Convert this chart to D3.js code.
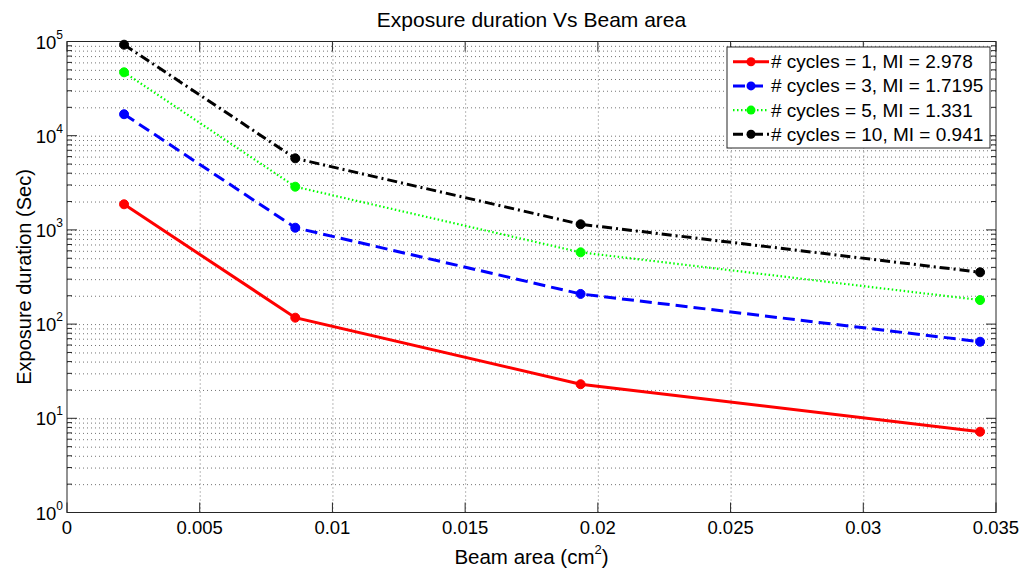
<!DOCTYPE html>
<html>
<head>
<meta charset="utf-8">
<script src="https://cdn.jsdelivr.net/npm/d3@7"></script>
<style>
  body { margin: 0; background: #fff; }
  svg { font-family: "Liberation Sans", Arial, sans-serif; }
  .grid line { stroke: #000; stroke-opacity: 0.55; stroke-dasharray: 1,3; }
  .grid path { display: none; }
</style>
</head>
<body>
<div id="chart"></div>
<script>
// beam area (cm^2)
const beamArea = [0.00215, 0.0086, 0.01935, 0.0344];

const seriesNames = [
    '# cycles = 1, MI = 2.978',
    '# cycles = 3, MI = 1.7195',
    '# cycles = 5, MI = 1.331',
    '# cycles = 10, MI = 0.941',
];
const cycles1 = [1870, 117, 23, 7.2];
const cycles3 = [16900, 1055, 209, 65];
const cycles5 = [47100, 2875, 578, 180];
const cycles10 = [92500, 5750, 1148, 355];

const colors = ['#ff0000', '#0000ff', '#00ff00', '#000000'];
const dashes = [null, '12,6', '1.5,2.5', '10,4,2,4'];
const lineWidths = [3, 3, 2.2, 3];

const xTicks = [0, 0.005, 0.01, 0.015, 0.02, 0.025, 0.03, 0.035];
const yDecades = [1, 10, 100, 1000, 10000, 100000];

const width = 1022;
const height = 569;

const area = { left: 67, right: 996, top: 41.5, bottom: 512.5 };

const svg = d3.select('#chart')
    .append('svg')
    .attr('width', width)
    .attr('height', height);

const xScale = d3.scaleLinear().domain([0, 0.035]).range([area.left, area.right]);
const yScale = d3.scaleLog().domain([1, 1e5]).range([area.bottom, area.top]);

// minor values 2..9 for every decade
const yMinor = [];
yDecades.slice(0, -1).forEach((d) => {
    for (let k = 2; k <= 9; k++) yMinor.push(d * k);
});

// gridlines
svg.append('g')
    .attr('class', 'grid')
    .attr('transform', `translate(${area.left}, 0)`)
    .call(d3.axisLeft(yScale).tickValues(yMinor.concat(yDecades.slice(1, -1)))
        .tickFormat('').tickSize(-(area.right - area.left)));

svg.append('g')
    .attr('class', 'grid')
    .attr('transform', `translate(0, ${area.bottom})`)
    .call(d3.axisBottom(xScale).tickValues(xTicks.slice(1, -1))
        .tickFormat('').tickSize(-(area.bottom - area.top)));

// frame
svg.append('rect')
    .attr('x', area.left).attr('y', area.top)
    .attr('width', area.right - area.left).attr('height', area.bottom - area.top)
    .attr('fill', 'none').attr('stroke', '#262626').attr('stroke-width', 1);

// inside tick marks
const ticks = svg.append('g').attr('stroke', '#262626').attr('stroke-width', 1);
yDecades.forEach((v) => {
    const y = yScale(v);
    ticks.append('line').attr('x1', area.left).attr('x2', area.left + 10).attr('y1', y).attr('y2', y);
    ticks.append('line').attr('x1', area.right).attr('x2', area.right - 10).attr('y1', y).attr('y2', y);
});
yMinor.forEach((v) => {
    const y = yScale(v);
    ticks.append('line').attr('x1', area.left).attr('x2', area.left + 5).attr('y1', y).attr('y2', y);
    ticks.append('line').attr('x1', area.right).attr('x2', area.right - 5).attr('y1', y).attr('y2', y);
});
xTicks.forEach((v) => {
    const x = xScale(v);
    ticks.append('line').attr('x1', x).attr('x2', x).attr('y1', area.bottom).attr('y2', area.bottom - 10);
    ticks.append('line').attr('x1', x).attr('x2', x).attr('y1', area.top).attr('y2', area.top + 10);
});

// x tick labels
svg.append('g')
    .selectAll('text')
    .data(xTicks)
    .join('text')
    .attr('x', (d) => xScale(d))
    .attr('y', area.bottom + 21)
    .attr('text-anchor', 'middle')
    .attr('font-size', 18.5)
    .attr('fill', '#000')
    .text((d) => String(d));

// y tick labels 10^n
const yLab = svg.append('g')
    .selectAll('text')
    .data(yDecades)
    .join('text')
    .attr('x', area.left - 4)
    .attr('y', (d) => yScale(d) + 7)
    .attr('text-anchor', 'end')
    .attr('font-size', 18.5)
    .attr('fill', '#000');
yLab.append('tspan').text('10');
yLab.append('tspan').attr('font-size', 12).attr('dy', -10).text((d) => Math.round(Math.log10(d)));

// title and axis labels
svg.append('text')
    .attr('x', (area.left + area.right) / 2)
    .attr('y', 27)
    .attr('text-anchor', 'middle')
    .attr('font-size', 21)
    .text('Exposure duration Vs Beam area');

const xl = svg.append('text')
    .attr('x', (area.left + area.right) / 2)
    .attr('y', 564)
    .attr('text-anchor', 'middle')
    .attr('font-size', 20.5)
    .text('Beam area (cm');
xl.append('tspan').attr('font-size', 13).attr('dy', -10).text('2');
xl.append('tspan').attr('dy', 10).text(')');

svg.append('text')
    .attr('transform', `translate(31, ${(area.top + area.bottom) / 2}) rotate(-90)`)
    .attr('text-anchor', 'middle')
    .attr('font-size', 20)
    .text('Exposure duration (Sec)');

// series
const allSeries = [cycles1, cycles3, cycles5, cycles10];
const line = d3.line()
    .x((d) => xScale(d[0]))
    .y((d) => yScale(d[1]));

allSeries.forEach((vals, i) => {
    const pts = beamArea.map((a, j) => [a, vals[j]]);
    svg.append('path')
        .datum(pts)
        .attr('d', line)
        .attr('fill', 'none')
        .attr('stroke', colors[i])
        .attr('stroke-width', lineWidths[i])
        .attr('stroke-dasharray', dashes[i]);
    svg.append('g')
        .selectAll('circle')
        .data(pts)
        .join('circle')
        .attr('cx', (d) => xScale(d[0]))
        .attr('cy', (d) => yScale(d[1]))
        .attr('r', 4.5)
        .attr('fill', colors[i])
        .attr('stroke', colors[i])
        .attr('stroke-width', 1);
});

// legend
const leg = svg.append('g');
leg.append('rect')
    .attr('x', 727).attr('y', 47)
    .attr('width', 263).attr('height', 101)
    .attr('fill', '#fff').attr('stroke', '#262626');

seriesNames.forEach((name, i) => {
    const y = 61.7 + i * 24.2;
    leg.append('line')
        .attr('x1', 733).attr('x2', 769).attr('y1', y).attr('y2', y)
        .attr('stroke', colors[i])
        .attr('stroke-width', lineWidths[i])
        .attr('stroke-dasharray', dashes[i]);
    leg.append('circle')
        .attr('cx', 751).attr('cy', y).attr('r', 4.5)
        .attr('fill', colors[i]);
    leg.append('text')
        .attr('x', 771)
        .attr('y', y + 6.5)
        .attr('font-size', 19)
        .text(name);
});
</script>
</body>
</html>
